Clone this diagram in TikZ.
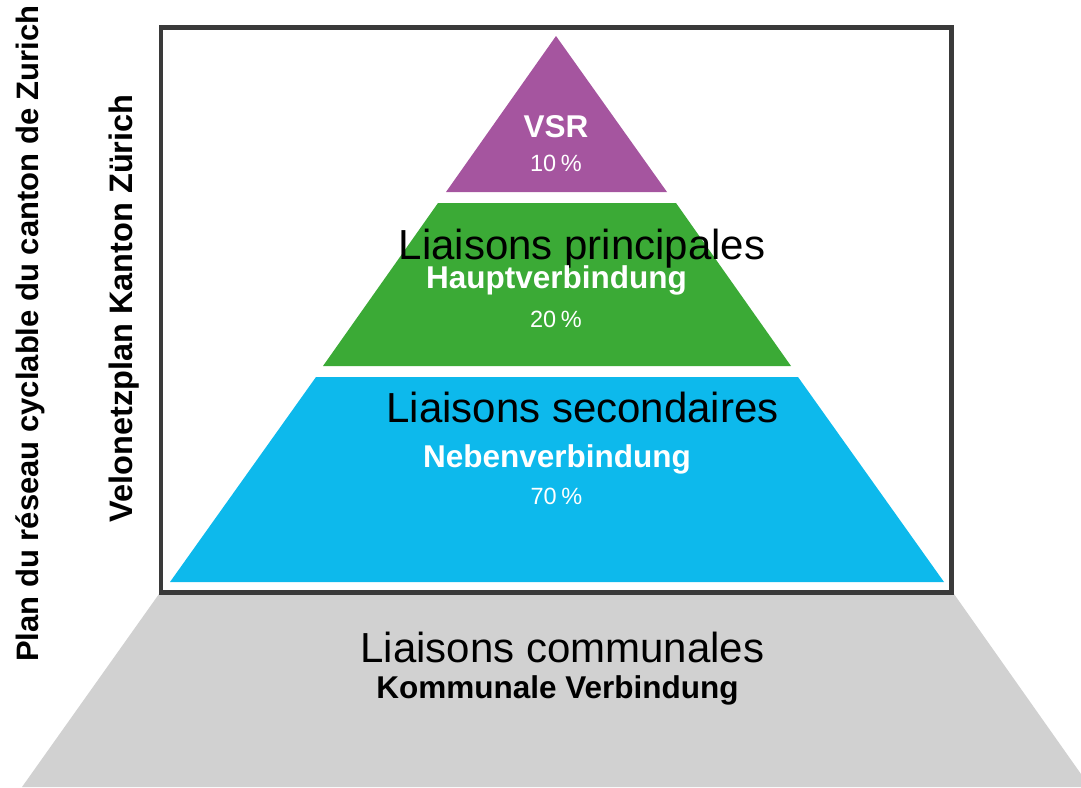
\documentclass[tikz,border=0pt]{standalone}
\usepackage{fontspec}
\setmainfont{Liberation Sans}
\definecolor{vsr}{HTML}{A5559F}
\definecolor{haupt}{HTML}{3BAA36}
\definecolor{neben}{HTML}{0DB9EC}
\definecolor{komm}{HTML}{D1D1D1}
\definecolor{frame}{HTML}{3A3A3A}
\tikzset{
  big/.style={anchor=base, inner sep=0pt, text=black, font=\fontsize{42}{48}\selectfont},
  boldlbl/.style={anchor=base, inner sep=0pt, text=white, font=\bfseries\fontsize{31.5}{36}\selectfont},
  pct/.style={anchor=base, inner sep=0pt, text=white, font=\fontsize{23.5}{28}\selectfont},
  side/.style={anchor=base, inner sep=0pt, rotate=90, text=black, font=\bfseries\fontsize{31}{36}\selectfont},
}
\begin{document}
\begin{tikzpicture}[x=1pt,y=-1pt]
\useasboundingbox (0,0) rectangle (1081,787);
% grey base
\fill[komm] (159,594) -- (954,594) -- (1081,774) -- (1081,787) -- (22,787) -- cycle;
% frame
\draw[frame, line width=4.5pt] (161,27.5) rectangle (951.5,592.5);
% pyramid levels
\fill[vsr] (556,36) -- (667,192) -- (446,192) -- cycle;
\fill[haupt] (438,203) -- (676,203) -- (791,366) -- (323,366) -- cycle;
\fill[neben] (316,377) -- (798,377) -- (944,582) -- (170,582) -- cycle;
% labels
\node[boldlbl] (vsr) at (556,137) {VSR};
\node[pct] (p10) at (556,171) {10\hspace{0.2em}\%};
\node[big] (lp) at (582,259) {Liaisons principales};
\node[boldlbl] (hv) at (556.5,288) {Hauptverbindung};
\node[pct] (p20) at (556,327) {20\hspace{0.2em}\%};
\node[big] (ls) at (582.5,422) {Liaisons secondaires};
\node[boldlbl] (nv) at (557,467) {Nebenverbindung};
\node[pct] (p70) at (556.5,504) {70\hspace{0.2em}\%};
\node[big] (lc) at (562.5,662) {Liaisons communales};
\node[boldlbl, text=black] (kv) at (557.5,698) {Kommunale Verbindung};
% side titles
\node[side] (plan) at (38,333.5) {Plan du réseau cyclable du canton de Zurich};
\node[side, font=\bfseries\fontsize{32.5}{36}\selectfont] (velo) at (132,308.5) {Velonetzplan Kanton Zürich};
\end{tikzpicture}
\end{document}
